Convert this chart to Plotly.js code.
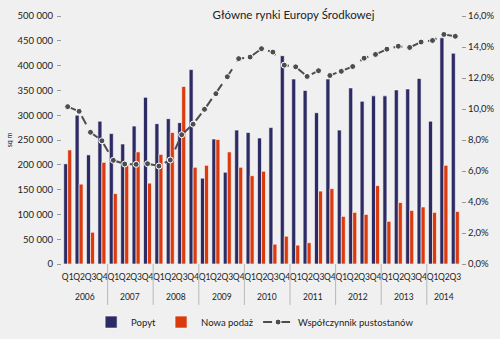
<!DOCTYPE html>
<html>
<head>
<meta charset="utf-8">
<script src="https://cdn.plot.ly/plotly-3.0.1.min.js"></script>
<style>html,body{margin:0;padding:0;background:#f0f0f0;}#chart{width:500px;height:339px;}</style>
</head>
<body>
<div id="chart"></div>
<script>
const years = ['2006','2007','2008','2009','2010','2011','2012','2013','2014'];
const quarters = ['Q1','Q2','Q3','Q4'];
const popyt = [202000,300000,220000,288000, 263000,242000,278000,336000, 283000,293000,285000,392000,
  173000,252000,185000,270000, 265000,254000,275000,420000, 373000,350000,305000,373000,
  270000,355000,328000,339000, 339000,351000,353000,374000, 288000,456000,425000];
const nowaPodaz = [230000,161000,64000,205000, 142000,199000,226000,163000, 221000,265000,358000,195000,
  199000,251000,226000,195000, 178000,187000,40000,56000, 38000,43000,147000,152000,
  96000,104000,100000,158000, 86000,124000,108000,115000, 104000,199000,106000];
const pustostany = [10.15,9.85,8.5,7.95, 6.69,6.45,6.43,6.47, 6.32,6.71,8.34,9.02,
  9.98,10.99,12.08,13.25, 13.35,13.89,13.67,12.83, 12.72,12.1,12.47,12.16,
  12.43,12.74,13.28,13.52, 13.86,14.05,13.97,14.32, 14.42,14.81,14.69];
const seriesNames = ['Popyt','Nowa podaż','Współczynnik pustostanów'];
const chartTitle = 'Główne rynki Europy Środkowej';

const n = popyt.length;
const idx = [], qLabels = [];
for (let i = 0; i < n; i++) { idx.push(i); qLabels.push(quarters[i % 4]); }

const FONT = 'Lato, "Open Sans", sans-serif';
const traces = [
  {type:'bar', name:seriesNames[0], x:idx, y:popyt,
   marker:{color:'#2d2b63', line:{color:'#ffffff', width:0.6}}},
  {type:'bar', name:seriesNames[1], x:idx, y:nowaPodaz,
   marker:{color:'#d93a0e', line:{color:'#ffffff', width:0.6}}},
  {type:'scatter', mode:'lines+markers', name:seriesNames[2], x:idx, y:pustostany, yaxis:'y2',
   line:{color:'#4d4d4d', width:2, dash:'dash'},
   marker:{color:'#4d4d4d', size:6, line:{color:'#ffffff', width:1}}}
];

const annotations = [], shapes = [];
years.forEach((yr, k) => {
  const first = k * 4, last = Math.min(n - 1, k * 4 + 3);
  annotations.push({text:yr, x:(first + last) / 2, xref:'x', y:-0.135, yref:'paper',
    yanchor:'middle', showarrow:false, font:{family:FONT, size:8.5, color:'#222'}});
  if (k > 0) shapes.push({type:'line', xref:'x', yref:'paper', x0:first - 0.5, x1:first - 0.5,
    y0:0, y1:-0.165, line:{color:'#b8b8b8', width:1}});
});

const layout = {
  width:500, height:339,
  margin:{l:62, r:39, t:16, b:74.5},
  paper_bgcolor:'#f0f0f0', plot_bgcolor:'#f0f0f0',
  separators:', ',
  font:{family:FONT, size:9.5, color:'#222'},
  title:{text:chartTitle, x:0.587, xanchor:'center', y:0.955, yanchor:'middle', font:{family:FONT, size:11.5, color:'#222'}},
  barmode:'group', bargap:0.3, bargroupgap:0,
  showlegend:true,
  legend:{orientation:'h', x:0.484, xanchor:'center', yref:'container', y:0.05, yanchor:'middle', font:{size:9.5}, bgcolor:'rgba(0,0,0,0)'},
  xaxis:{range:[-0.5, n - 0.5], tickmode:'array', tickvals:idx, ticktext:qLabels, tickangle:0, tickfont:{size:8.5},
         showgrid:false, showline:false, zeroline:false, automargin:false, ticks:'', ticklabelstandoff:6},
  yaxis:{range:[0,500000], dtick:50000, tickformat:',d', showgrid:false, zeroline:false, showline:false, automargin:false,
         ticks:'outside', ticklen:4, tickcolor:'#999', ticklabelstandoff:2,
         title:{text:'sq m', font:{size:7}, standoff:4}},
  yaxis2:{overlaying:'y', side:'right', range:[0,16], dtick:2, tickformat:'.1f', ticksuffix:'%', automargin:false,
          showgrid:false, zeroline:false, showline:false, ticks:'outside', ticklen:4, tickcolor:'#999'},
  annotations:annotations,
  shapes:shapes
};
Plotly.newPlot('chart', traces, layout, {displayModeBar:false, staticPlot:true});
</script>
</body>
</html>
